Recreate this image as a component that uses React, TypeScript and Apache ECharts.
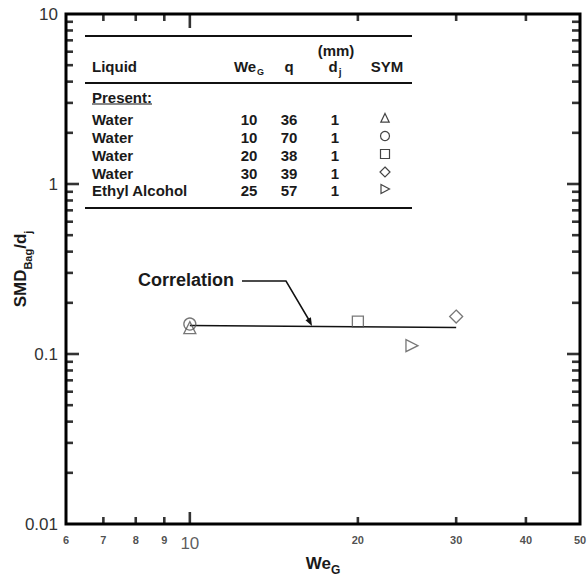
import React, { useEffect, useRef } from "react";
import * as echarts from "echarts";

const X_RANGE = [6, 50];
const Y_RANGE = [0.01, 10];
const X_TICK_VALUES = [7, 8, 9, 10, 20, 30, 40];
const X_MAJOR_TICKS = [10];
const X_TICK_LABELS = [6, 7, 8, 9, 10, 20, 30, 40, 50];
const Y_TICK_VALUES = [
  0.02, 0.03, 0.04, 0.05, 0.06, 0.07, 0.08, 0.09, 0.1,
  0.2, 0.3, 0.4, 0.5, 0.6, 0.7, 0.8, 0.9, 1,
  2, 3, 4, 5, 6, 7, 8, 9,
];
const Y_MAJOR_TICKS = [0.1, 1];

const TRIANGLE_PTS = [[10, 0.143]];
const CIRCLE_PTS = [[10, 0.15]];
const SQUARE_PTS = [[20, 0.155]];
const DIAMOND_PTS = [[30, 0.166]];
const RTRIANGLE_PTS = [[25, 0.112]];
const CORR_WE = [10, 30];
const CORR_SMD = [0.147, 0.143];

const LIQUIDS = ["Water", "Water", "Water", "Water", "Ethyl Alcohol"];
const TABLE_WE = [10, 10, 20, 30, 25];
const TABLE_Q = [36, 70, 38, 39, 57];
const TABLE_DJ = [1, 1, 1, 1, 1];
const TABLE_SYM = ["triangle", "circle", "rect", "diamond", "rtriangle"];

const FONT = "Liberation Sans, Arial, Helvetica, sans-serif";
const TXT = "#1a1a1a";
const MARK = "#555";

// table layout
const T_X0 = 85;
const T_X1 = 412;
const C_LIQ = 92;
const C_WE = 249;
const C_Q = 289;
const C_DJ = 335;
const C_SYM = 385;
const ROW_Y = [119, 137, 155, 173, 190];

const TICK_W = 2.6;

function tableSymbol(kind: string, cx: number, cy: number) {
  const style = { fill: "none", stroke: "#444", lineWidth: 1.2 };
  switch (kind) {
    case "triangle":
      return { type: "polygon", shape: { points: [[cx, cy - 4.5], [cx + 4.2, cy + 4.2], [cx - 4.2, cy + 4.2]] }, style };
    case "circle":
      return { type: "circle", shape: { cx, cy, r: 4.5 }, style };
    case "rect":
      return { type: "rect", shape: { x: cx - 4.5, y: cy - 4.5, width: 9, height: 9 }, style };
    case "diamond":
      return { type: "polygon", shape: { points: [[cx, cy - 5], [cx + 5, cy], [cx, cy + 5], [cx - 5, cy]] }, style };
    default:
      return { type: "polygon", shape: { points: [[cx - 4, cy - 4.5], [cx + 4.5, cy], [cx - 4, cy + 4.5]] }, style };
  }
}

function buildGraphic() {
  const els: any[] = [];
  const bold = (size: number) => `bold ${size}px ${FONT}`;
  const line = (x1: number, y1: number, x2: number, y2: number, w: number) => ({
    type: "line",
    shape: { x1, y1, x2, y2 },
    style: { stroke: "#111", lineWidth: w },
  });
  const text = (t: string, x: number, y: number, align: string, size = 15, rich?: any) => ({
    type: "text",
    x,
    y,
    style: { text: t, font: bold(size), fill: TXT, align, verticalAlign: "middle", rich },
  });
  els.push(line(T_X0, 36, T_X1, 36, 1.8));
  els.push(line(T_X0, 83, T_X1, 83, 2));
  els.push(line(T_X0, 208, T_X1, 208, 2));
  els.push(text("(mm)", C_DJ + 1, 50, "center"));
  els.push(text("Liquid", C_LIQ, 66, "left"));
  els.push(
    text("{a|We}{b|G}", C_WE, 66, "center", 15, {
      a: { font: bold(15), fill: TXT },
      b: { font: bold(9), fill: TXT, verticalAlign: "bottom", padding: [0, 0, -3, 1] },
    })
  );
  els.push(text("q", C_Q, 66, "center"));
  els.push(
    text("{a|d}{b|j}", C_DJ, 66, "center", 15, {
      a: { font: bold(15), fill: TXT },
      b: { font: bold(10), fill: TXT, verticalAlign: "bottom", padding: [0, 0, -4, 1] },
    })
  );
  els.push(text("SYM", C_SYM + 2, 66, "center"));
  els.push(text("Present:", C_LIQ, 97, "left"));
  els.push(line(C_LIQ, 104, C_LIQ + 60, 104, 1.2));
  LIQUIDS.forEach((liq, i) => {
    const y = ROW_Y[i];
    els.push(text(liq, C_LIQ, y, "left"));
    els.push(text(String(TABLE_WE[i]), C_WE, y, "center"));
    els.push(text(String(TABLE_Q[i]), C_Q, y, "center"));
    els.push(text(String(TABLE_DJ[i]), C_DJ, y, "center"));
    els.push(tableSymbol(TABLE_SYM[i], C_SYM, y - 1));
  });
  // correlation annotation
  els.push({
    type: "text",
    x: 138,
    y: 280,
    style: { text: "Correlation", font: bold(18), fill: TXT, align: "left", verticalAlign: "middle" },
  });
  els.push({
    type: "polyline",
    shape: { points: [[242, 281], [286, 281], [309, 320]] },
    style: { stroke: "#111", lineWidth: 1.5, fill: "none" },
  });
  els.push({
    type: "polygon",
    shape: { points: [[312, 326], [305.5, 320.2], [310.9, 317.2]] },
    style: { fill: "#111" },
  });
  return els;
}

const markerStyle = { color: "rgba(0,0,0,0)", borderColor: MARK, borderWidth: 1.3 };

function tickSeries(items: any[]) {
  return {
    type: "scatter",
    silent: true,
    clip: false,
    symbol: "rect",
    itemStyle: { color: "#000" },
    data: items,
    z: 4,
  };
}

function buildOption(): any {
  const xMajor = (v: number) => X_MAJOR_TICKS.includes(v);
  const yMajor = (v: number) => Y_MAJOR_TICKS.some((m) => Math.abs(m - v) < 1e-9);
  const bottomTicks = X_TICK_VALUES.map((v) => {
    const len = xMajor(v) ? 12 : 7;
    return { value: [v, Y_RANGE[0]], symbolSize: [TICK_W, len], symbolOffset: [0, -len / 2] };
  });
  const topTicks = X_TICK_VALUES.map((v) => {
    const len = xMajor(v) ? 14 : 7;
    return { value: [v, Y_RANGE[1]], symbolSize: [TICK_W, len], symbolOffset: [0, len / 2] };
  });
  const leftTicks = Y_TICK_VALUES.map((v) => {
    const len = yMajor(v) ? 13 : 7;
    return { value: [X_RANGE[0], v], symbolSize: [len, TICK_W], symbolOffset: [len / 2, 0] };
  });
  const rightTicks = Y_TICK_VALUES.map((v) => {
    const len = yMajor(v) ? 13 : 8;
    return { value: [X_RANGE[1], v], symbolSize: [len, TICK_W], symbolOffset: [-len / 2, 0] };
  });

  return {
    animation: false,
    backgroundColor: "#fff",
    grid: {
      left: 66,
      top: 14,
      right: 7,
      bottom: 55,
      outerBoundsMode: "none",
      containLabel: false,
      show: true,
      borderColor: "#000",
      borderWidth: 3,
      backgroundColor: "rgba(0,0,0,0)",
    },
    xAxis: {
      type: "log",
      logBase: 10,
      min: X_RANGE[0],
      max: X_RANGE[1],
      axisLine: { show: false },
      axisTick: { show: false },
      axisLabel: { show: false },
      splitLine: { show: false },
      name: "We{s|G}",
      nameLocation: "middle",
      nameGap: 31,
      nameMoveOverlap: false,
      nameTextStyle: {
        fontFamily: FONT,
        fontWeight: "bold",
        fontSize: 17,
        color: TXT,
        rich: {
          s: { fontFamily: FONT, fontWeight: "bold", fontSize: 12, color: TXT, verticalAlign: "bottom", padding: [0, 0, -4, 0] },
        },
      },
    },
    yAxis: {
      type: "log",
      logBase: 10,
      min: Y_RANGE[0],
      max: Y_RANGE[1],
      axisLine: { show: false },
      axisTick: { show: false },
      splitLine: { show: false },
      axisLabel: {
        show: true,
        margin: 8,
        fontFamily: FONT,
        fontSize: 17,
        color: "#333",
        formatter: (v: number) => String(Number(v.toPrecision(3))),
      },
      name: "SMD{s|Bag}/d{s|j}",
      nameLocation: "middle",
      nameGap: 37,
      nameRotate: 90,
      nameMoveOverlap: false,
      nameTextStyle: {
        fontFamily: FONT,
        fontWeight: "bold",
        fontSize: 17,
        color: TXT,
        rich: {
          s: { fontFamily: FONT, fontWeight: "bold", fontSize: 11, color: TXT, verticalAlign: "bottom", padding: [0, 0, -4, 0] },
        },
      },
    },
    graphic: buildGraphic(),
    series: [
      tickSeries(bottomTicks),
      tickSeries(topTicks),
      tickSeries(leftTicks),
      tickSeries(rightTicks),
      {
        type: "scatter",
        silent: true,
        clip: false,
        symbolSize: 1,
        itemStyle: { color: "rgba(0,0,0,0)" },
        data: X_TICK_LABELS.map((v) => ({
          value: [v, Y_RANGE[0]],
          label:
            v === 10
              ? { fontSize: 17, fontWeight: "normal", color: "#333", distance: 10 }
              : { fontSize: 11, fontWeight: "bold", color: "#222", distance: 10 },
        })),
        label: {
          show: true,
          position: "bottom",
          fontFamily: FONT,
          formatter: (p: any) => String(p.value[0]),
        },
      },
      {
        type: "line",
        silent: true,
        symbol: "none",
        data: CORR_WE.map((x, i) => [x, CORR_SMD[i]]),
        lineStyle: { color: "#111", width: 1.5 },
        z: 2,
      },
      { type: "scatter", symbol: "triangle", symbolSize: 12, data: TRIANGLE_PTS, itemStyle: markerStyle, z: 3 },
      { type: "scatter", symbol: "circle", symbolSize: 12, data: CIRCLE_PTS, itemStyle: markerStyle, z: 3 },
      { type: "scatter", symbol: "rect", symbolSize: 11, data: SQUARE_PTS, itemStyle: markerStyle, z: 3 },
      { type: "scatter", symbol: "diamond", symbolSize: 13, data: DIAMOND_PTS, itemStyle: markerStyle, z: 3 },
      {
        type: "scatter",
        symbol: "path://M0,0L10,5L0,10Z",
        symbolSize: 12,
        data: RTRIANGLE_PTS,
        itemStyle: markerStyle,
        z: 3,
      },
    ],
  };
}

export default function App() {
  const ref = useRef<HTMLDivElement>(null);
  useEffect(() => {
    if (!ref.current) return;
    const chart = echarts.init(ref.current, null, { renderer: "svg" });
    chart.setOption(buildOption());
    return () => chart.dispose();
  }, []);
  return (
    <div
      ref={ref}
      style={{ position: "fixed", left: 0, top: 0, width: 587, height: 579, background: "#fff" }}
    />
  );
}
